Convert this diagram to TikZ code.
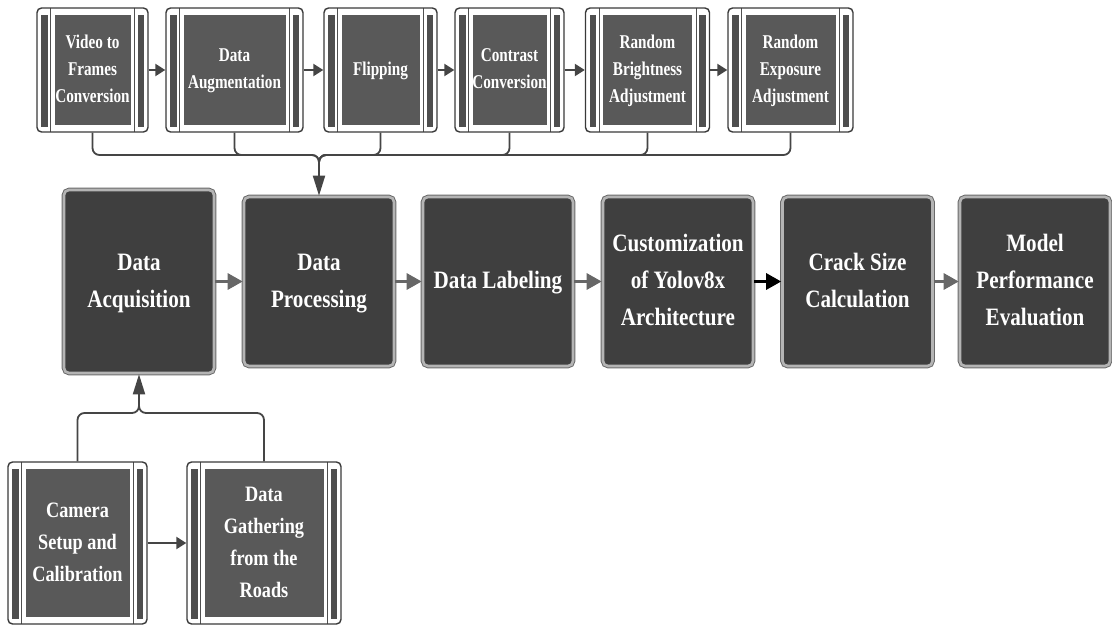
\documentclass[tikz,border=0pt]{standalone}
\usepackage{fontspec}
\usepackage{graphicx}
\usetikzlibrary{arrows.meta,shadows,calc}

\setmainfont{Liberation Serif}

% condensed multi-line label: lines set in a tabular, squeezed horizontally
\newcommand{\sqf}{1}
\newcommand{\sq}[1]{\scalebox{\sqf}[1]{\begin{tabular}{@{}c@{}}#1\end{tabular}}}

\definecolor{edgecol}{HTML}{3A3A3A}
\definecolor{barcol}{HTML}{4E4E4E}
\definecolor{divcol}{HTML}{505050}
\definecolor{panelcol}{HTML}{595959}
\definecolor{mainfill}{HTML}{3F3F3F}
\definecolor{mainrim}{HTML}{B4B4B4}
\definecolor{mainouter}{HTML}{6A6A6A}
\definecolor{arrowcol}{HTML}{676767}
\definecolor{buscol}{HTML}{454545}

\tikzset{
  subproc/.style={draw=edgecol, line width=1.4pt, fill=white, rounded corners=4.5pt,
    inner sep=0pt, text=white,
    path picture={
      \begin{scope}[sharp corners]
      \fill[barcol] ([xshift=4pt,yshift=-7pt]path picture bounding box.north west)
        rectangle ([xshift=10.5pt,yshift=5pt]path picture bounding box.south west);
      \fill[barcol] ([xshift=-4pt,yshift=-7pt]path picture bounding box.north east)
        rectangle ([xshift=-10.5pt,yshift=5pt]path picture bounding box.south east);
      \draw[divcol, line width=1pt] ([xshift=13.5pt]path picture bounding box.north west)
        -- ([xshift=13.5pt]path picture bounding box.south west);
      \draw[divcol, line width=1pt] ([xshift=-13.5pt]path picture bounding box.north east)
        -- ([xshift=-13.5pt]path picture bounding box.south east);
      \fill[panelcol] ([xshift=17.5pt,yshift=-7pt]path picture bounding box.north west)
        rectangle ([xshift=-17.5pt,yshift=7pt]path picture bounding box.south east);
      \end{scope}
    }},
  toptext/.style={font={\bfseries\fontsize{19.5}{27}\selectfont\renewcommand{\sqf}{0.78}}},
  lowtext/.style={font={\bfseries\fontsize{22}{32}\selectfont\renewcommand{\sqf}{0.83}}},
  mainbox/.style={fill=mainfill, draw=mainrim, line width=2.6pt, rounded corners=5pt,
    preaction={draw=mainouter, line width=4.6pt},
    drop shadow={opacity=0.35, shadow xshift=1.2pt, shadow yshift=-1.5pt},
    inner sep=0pt, minimum width=150pt, minimum height=169pt,
    text=white, font={\bfseries\fontsize{25}{37}\selectfont\renewcommand{\sqf}{0.845}}},
  toparrow/.style={draw=buscol, line width=2.2pt, -{Triangle[length=10pt,width=12pt]}},
  mainarrow/.style={draw=arrowcol, line width=3pt, -{Triangle[length=15pt,width=16pt]}},
  bus/.style={draw=buscol, line width=1.8pt, rounded corners=7pt},
  busarrow/.style={draw=buscol, line width=1.8pt, -{Triangle[length=20pt,width=12pt]}},
}

\begin{document}
\begin{tikzpicture}[x=1pt,y=-1pt]
\useasboundingbox (0,0) rectangle (1112,626);

% preprocessing steps
\node[subproc, toptext, minimum width=111pt, minimum height=124pt] (v1) at (92.5,70) {\sq{Video to\\Frames\\Conversion}};
\node[subproc, toptext, minimum width=137pt, minimum height=124pt] (v2) at (234.5,70) {\sq{Data\\Augmentation}};
\node[subproc, toptext, minimum width=113pt, minimum height=124pt] (v3) at (380.5,70) {\sq{Flipping}};
\node[subproc, toptext, minimum width=109pt, minimum height=124pt] (v4) at (509.5,70) {\sq{Contrast\\Conversion}};
\node[subproc, toptext, minimum width=124pt, minimum height=124pt] (v5) at (647.5,70) {\sq{Random\\Brightness\\Adjustment}};
\node[subproc, toptext, minimum width=125pt, minimum height=124pt] (v6) at (790.5,70) {\sq{Random\\Exposure\\Adjustment}};

% main pipeline
\node[mainbox, minimum height=183pt] (acq) at (139,281.5) {\sq{Data\\Acquisition}};
\node[mainbox] (proc) at (319,281.5) {\sq{Data\\Processing}};
\node[mainbox] (lab) at (498,281.5) {\sq{Data Labeling}};
\node[mainbox] (cust) at (678,281.5) {\sq{Customization\\of Yolov8x\\Architecture}};
\node[mainbox] (crack) at (857.5,281.5) {\sq{Crack Size\\Calculation}};
\node[mainbox] (model) at (1035,281.5) {\sq{Model\\Performance\\Evaluation}};

% acquisition steps
\node[subproc, lowtext, minimum width=139pt, minimum height=162pt] (cam) at (77.5,543) {\sq{Camera\\Setup and\\Calibration}};
\node[subproc, lowtext, minimum width=154pt, minimum height=162pt] (gat) at (264,543) {\sq{Data\\Gathering\\from the\\Roads}};

% arrows between preprocessing steps
\draw[toparrow] (v1) -- (v2);
\draw[toparrow] (v2) -- (v3);
\draw[toparrow] (v3) -- (v4);
\draw[toparrow] (v4) -- (v5);
\draw[toparrow] (v5) -- (v6);

% collecting bus into Data Processing
\coordinate (pj) at (319,155);
\foreach \b in {v1,v2,v3,v4,v5,v6}
  \draw[bus] (\b.south) |- (pj) -- ++(0,14);
\draw[busarrow] ($(pj)+(0,6)$) -- (proc.north);

% main pipeline arrows
\draw[mainarrow] (acq) -- (proc);
\draw[mainarrow] (proc) -- (lab);
\draw[mainarrow] (lab) -- (cust);
\draw[mainarrow, draw=black, -{Triangle[length=15pt,width=16pt,fill=black]}] (cust) -- (crack);
\draw[mainarrow] (crack) -- (model);

% acquisition steps feeding Data Acquisition
\draw[toparrow] (cam) -- (gat);
\coordinate (aj) at (139,413);
\draw[bus] (cam.north) |- (aj) -- ++(0,-14);
\draw[bus] (gat.north) |- (aj) -- ++(0,-14);
\draw[busarrow] ($(aj)+(0,-6)$) -- (acq.south);
\end{tikzpicture}
\end{document}
